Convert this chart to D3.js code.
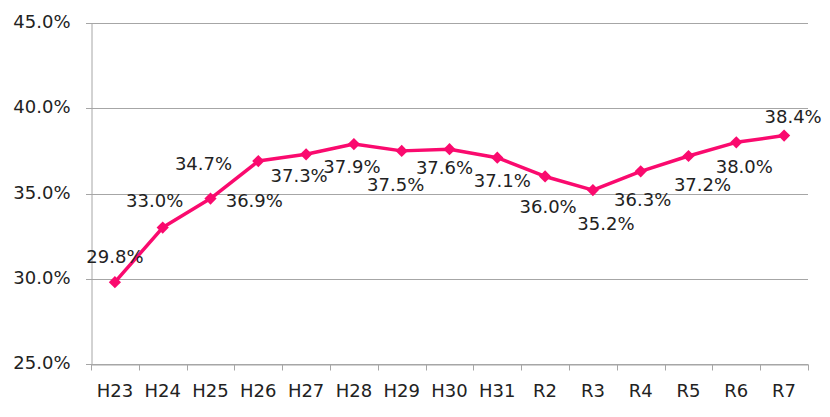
<!DOCTYPE html>
<html><head><meta charset="utf-8">
<script src="https://cdn.jsdelivr.net/npm/d3@7"></script>
<style>
html,body{margin:0;padding:0;background:#fff;}
svg text{font-family:"DejaVu Sans",Verdana,sans-serif;}
</style></head>
<body>
<svg id="chart" width="830" height="417"></svg>
<script>
const categories = ["H23","H24","H25","H26","H27","H28","H29","H30","H31","R2","R3","R4","R5","R6","R7"];
const values = [29.8,33.0,34.7,36.9,37.3,37.9,37.5,37.6,37.1,36.0,35.2,36.3,37.2,38.0,38.4];
const yTicks = [25,30,35,40,45];
// label offsets (dx, dy of text baseline relative to the point)
const labelDx = [0,-8,-7,-4,-7,-2,-6,-5,5,3,13,2,14,8,9];
const labelDy = [-19,-21,-29,46,28,29,40,25,29,37,40,35,35,31,-13];

(function(){
const svg = d3.select("#chart");
const mLeft = 91, mRight = 808, mTop = 23, mBottom = 364;
const fs = 18;
const x = d3.scaleBand().domain(categories).range([mLeft, mRight]);
const y = d3.scaleLinear().domain([25,45]).range([mBottom, mTop]);
const color = "#FA0A6E";

// gridlines
svg.append("g").selectAll("line").data(yTicks).join("line")
  .attr("x1", mLeft - 5).attr("x2", mRight)
  .attr("y1", d => Math.round(y(d)) + 0.5).attr("y2", d => Math.round(y(d)) + 0.5)
  .attr("stroke", "#a6a6a6").attr("stroke-width", 1);

// y axis
const yAxis = d3.axisLeft(y).tickValues(yTicks).tickSize(0).tickPadding(21)
  .tickFormat(d => d.toFixed(1) + "%");
const gy = svg.append("g").attr("transform", `translate(${mLeft+0.5},0)`).call(yAxis);
gy.select(".domain").attr("stroke", "#a6a6a6");
gy.selectAll("text").attr("font-size", fs).attr("fill", "#222").attr("dy", "0.25em");

// x axis
const xAxis = d3.axisBottom(x).tickSize(0).tickPadding(20);
const gx = svg.append("g").attr("transform", `translate(0,${mBottom+0.5})`).call(xAxis);
gx.select(".domain").attr("stroke", "#a6a6a6");
gx.selectAll("text").attr("font-size", fs).attr("fill", "#222");
// tick marks at band boundaries
const bounds = categories.map(c => x(c)).concat([x(categories[categories.length-1]) + x.bandwidth()]);
gx.append("g").selectAll("line").data(bounds).join("line")
  .attr("x1", d => Math.round(d) + 0.5).attr("x2", d => Math.round(d) + 0.5)
  .attr("y1", 0).attr("y2", 6).attr("stroke", "#a6a6a6");

const cx = c => x(c) + x.bandwidth() / 2;

// line
svg.append("path").datum(values)
  .attr("d", d3.line().x((d,i) => cx(categories[i])).y(d => y(d)))
  .attr("fill", "none").attr("stroke", color).attr("stroke-width", 3.5)
  .attr("stroke-linejoin", "round");

// markers
svg.append("g").selectAll("path").data(values).join("path")
  .attr("d", d3.symbol(d3.symbolDiamond2, 95)())
  .attr("transform", (d,i) => `translate(${cx(categories[i])},${y(d)})`)
  .attr("fill", color);

// labels
svg.append("g").selectAll("text").data(values).join("text")
  .attr("x", (d,i) => cx(categories[i]) + labelDx[i])
  .attr("y", (d,i) => y(d) + labelDy[i])
  .attr("text-anchor", "middle").attr("font-size", fs).attr("fill", "#222")
  .text(d => d.toFixed(1) + "%");
})();
</script>
</body></html>
